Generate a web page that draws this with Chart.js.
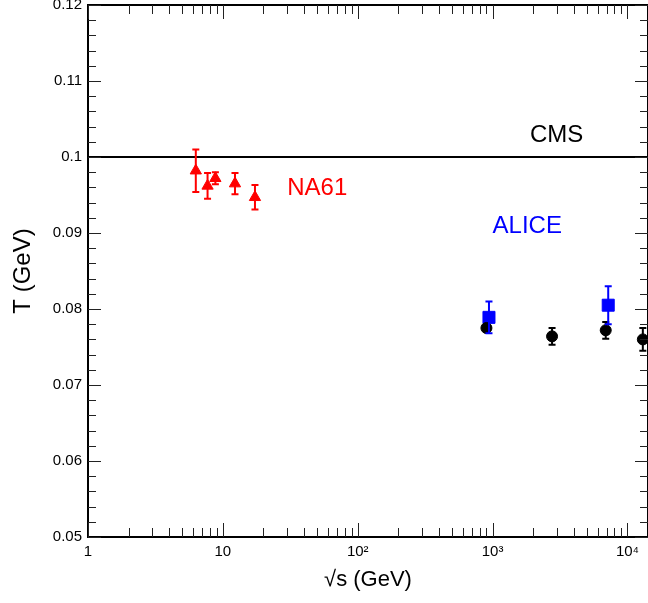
<!DOCTYPE html>
<html>
<head>
    <title>T vs sqrt(s)</title>
    <script src="https://cdn.jsdelivr.net/npm/chart.js"></script>
    <style>
        html, body { margin: 0; padding: 0; background: #fff; }
        #wrap { width: 648px; height: 603px; }
    </style>
</head>
<body>

<div id="wrap">
    <canvas id="chart" width="648" height="603"></canvas>
</div>

<script>

/* DATA */
const na61X   = [6.3, 7.7, 8.8, 12.3, 17.3];
const na61T   = [0.0982, 0.0962, 0.0972, 0.0965, 0.0947];
const na61Err = [0.0028, 0.0017, 0.0008, 0.0014, 0.0016];

const aliceX   = [940, 7200];
const aliceT   = [0.0789, 0.0805];
const aliceErr = [0.0021, 0.0025];

const cmsX   = [900, 2760, 6900, 13000];
const cmsT   = [0.0775, 0.0764, 0.0772, 0.0760];
const cmsErr = [0.0004, 0.0011, 0.0011, 0.0015];

const cmsLineT = 0.1;

const X_MIN = 1, X_MAX = 14200;
const Y_MIN = 0.05, Y_MAX = 0.12;

const xTickValues = [1, 10, 100, 1000, 10000];
const xTickLabels = ["1", "10", "10\u00B2", "10\u00B3", "10\u2074"];

const FONT = "'Liberation Sans', Arial, sans-serif";

function points(xs, ys) {
    return xs.map((x, i) => ({ x: x, y: ys[i] }));
}

/* ERROR BARS */
const errorBars = {
    id: "errorBars",
    afterDatasetsDraw(chart) {
        const ctx = chart.ctx;
        const xs = chart.scales.x, ys = chart.scales.y;
        chart.data.datasets.forEach(ds => {
            if (!ds.errors) return;
            ctx.save();
            ctx.strokeStyle = ds.borderColor;
            ctx.lineWidth = 2;
            ds.data.forEach((p, i) => {
                const px = xs.getPixelForValue(p.x);
                const top = ys.getPixelForValue(p.y + ds.errors[i]);
                const bot = ys.getPixelForValue(p.y - ds.errors[i]);
                ctx.beginPath();
                ctx.moveTo(px, top); ctx.lineTo(px, bot);
                ctx.moveTo(px - 3.5, top); ctx.lineTo(px + 3.5, top);
                ctx.moveTo(px - 3.5, bot); ctx.lineTo(px + 3.5, bot);
                ctx.stroke();
            });
            ctx.restore();
        });
    }
};

/* FRAME + INNER TICKS */
const frameTicks = {
    id: "frameTicks",
    afterDraw(chart) {
        const ctx = chart.ctx;
        const a = chart.chartArea;
        const xs = chart.scales.x, ys = chart.scales.y;
        ctx.save();
        ctx.strokeStyle = "#000";
        ctx.lineWidth = 2;
        ctx.beginPath();
        ctx.moveTo(a.left, a.top); ctx.lineTo(a.right, a.top); ctx.lineTo(a.right, a.bottom);
        ctx.stroke();

        ctx.lineWidth = 1;
        ctx.strokeStyle = "#222";
        ctx.beginPath();
        // x ticks, bottom and top
        for (let d = 1; d <= X_MAX; d *= 10) {
            for (let k = 1; k <= 9; k++) {
                const v = k * d;
                if (v < X_MIN || v > X_MAX) continue;
                const px = Math.round(xs.getPixelForValue(v)) + 0.5;
                const len = k === 1 ? 14 : 9;
                ctx.moveTo(px, a.bottom); ctx.lineTo(px, a.bottom - len);
                ctx.moveTo(px, a.top); ctx.lineTo(px, a.top + len);
            }
        }
        // y ticks, left and right
        for (let i = 0; i <= 35; i++) {
            const v = Y_MIN + i * 0.002;
            const py = Math.round(ys.getPixelForValue(v)) + 0.5;
            const len = i % 5 === 0 ? 13 : 8;
            ctx.moveTo(a.left, py); ctx.lineTo(a.left + len, py);
            ctx.moveTo(a.right, py); ctx.lineTo(a.right - len, py);
        }
        ctx.stroke();
        ctx.restore();
    }
};

/* TEXT LABELS */
const textLabels = [
    { text: "NA61",  x: 30,   y: 0.0950, color: "#ff0000" },
    { text: "ALICE", x: 1000, y: 0.0900, color: "#0000ff" },
    { text: "CMS",   x: 1890, y: 0.1020, color: "#000000" }
];

const labelPlugin = {
    id: "labelPlugin",
    afterDraw(chart) {
        const ctx = chart.ctx;
        ctx.save();
        ctx.font = "24px " + FONT;
        ctx.textAlign = "left";
        ctx.textBaseline = "alphabetic";
        textLabels.forEach(l => {
            ctx.fillStyle = l.color;
            ctx.fillText(l.text,
                chart.scales.x.getPixelForValue(l.x),
                chart.scales.y.getPixelForValue(l.y));
        });
        ctx.restore();
    }
};

new Chart(document.getElementById("chart"), {
    type: "scatter",
    data: {
        datasets: [
            {
                label: "CMS",
                data: points(cmsX, cmsT),
                errors: cmsErr,
                pointStyle: "circle",
                pointRadius: 5.5,
                backgroundColor: "#000",
                borderColor: "#000",
                borderWidth: 1
            },
            {
                label: "ALICE",
                data: points(aliceX, aliceT),
                errors: aliceErr,
                pointStyle: "rect",
                pointRadius: 8.5,
                backgroundColor: "#0000ff",
                borderColor: "#0000ff",
                borderWidth: 1
            },
            {
                label: "NA61",
                data: points(na61X, na61T),
                errors: na61Err,
                pointStyle: "triangle",
                pointRadius: 6.5,
                backgroundColor: "#ff0000",
                borderColor: "#ff0000",
                borderWidth: 1
            },
            {
                label: "CMS line",
                data: [{ x: X_MIN, y: cmsLineT }, { x: X_MAX, y: cmsLineT }],
                showLine: true,
                pointRadius: 0,
                borderColor: "#000",
                borderWidth: 2
            }
        ]
    },
    options: {
        responsive: false,
        animation: false,
        layout: { autoPadding: false, padding: { top: 5, right: 0, bottom: 0, left: 0 } },
        plugins: {
            legend: { display: false },
            tooltip: { enabled: false }
        },
        scales: {
            x: {
                type: "logarithmic",
                min: X_MIN,
                max: X_MAX,
                grid: { display: false, drawTicks: false, tickLength: 0 },
                border: { display: true, color: "#000", width: 2 },
                afterBuildTicks: s => { s.ticks = xTickValues.map(v => ({ value: v })); },
                afterFit: s => { s.height = 66; s.paddingLeft = 0; s.paddingRight = 0; },
                ticks: {
                    autoSkip: false,
                    maxRotation: 0,
                    padding: 6,
                    color: "#000",
                    font: { family: FONT, size: 15 },
                    callback: v => {
                        const i = xTickValues.indexOf(v);
                        return i >= 0 ? xTickLabels[i] : "";
                    }
                },
                title: {
                    display: true,
                    text: "\u221As (GeV)",
                    color: "#000",
                    font: { family: FONT, size: 22 },
                    padding: { top: 0, bottom: 10 }
                }
            },
            y: {
                min: Y_MIN,
                max: Y_MAX,
                grid: { display: false, drawTicks: false, tickLength: 0 },
                border: { display: true, color: "#000", width: 2 },
                afterFit: s => { s.width = 88; s.paddingTop = 0; s.paddingBottom = 0; },
                ticks: {
                    stepSize: 0.01,
                    padding: 6,
                    color: "#000",
                    font: { family: FONT, size: 15 },
                    callback: v => String(Number(v.toFixed(3)))
                },
                title: {
                    display: true,
                    text: "T (GeV)",
                    color: "#000",
                    font: { family: FONT, size: 24 },
                    padding: { top: 9, bottom: 0 }
                }
            }
        }
    },
    plugins: [errorBars, frameTicks, labelPlugin]
});

</script>

</body>
</html>
